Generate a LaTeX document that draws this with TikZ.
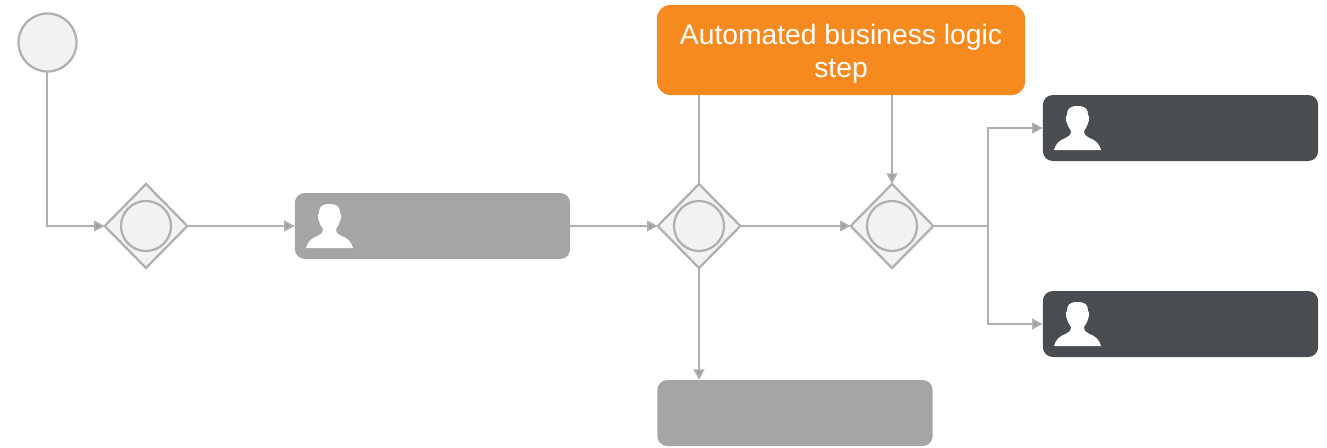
\documentclass[tikz,border=0pt]{standalone}
\usepackage{fontspec}
\setmainfont{Liberation Sans}
\usetikzlibrary{arrows.meta,shapes.geometric}
\definecolor{linegrey}{HTML}{B0B0B0}
\definecolor{softfill}{HTML}{F2F2F2}
\definecolor{midgrey}{HTML}{A5A5A5}
\definecolor{darkgrey}{HTML}{494C50}
\definecolor{brandorange}{HTML}{F78A1F}
\tikzset{
  x=0.75pt,y=-0.75pt,
  flow/.style={draw=linegrey,line width=1.35pt},
  flowarrow/.style={flow,-{Triangle[length=8pt,width=8pt,fill=linegrey!90!black]}},
  gateway/.style={diamond,aspect=1,draw=linegrey,fill=softfill,line width=1.7pt,minimum width=62pt,minimum height=63pt,inner sep=0pt,outer sep=0pt},
  event/.style={circle,draw=linegrey,fill=softfill,line width=1.7pt,inner sep=0pt,outer sep=0pt},
  taskbox/.style={rectangle,rounded corners=7.5pt,inner sep=0pt,outer sep=0pt,minimum width=206.5pt,minimum height=49.5pt},
  midtask/.style={taskbox,fill=midgrey},
  darktask/.style={taskbox,fill=darkgrey},
  person/.pic={
    \fill[white] (0,0) .. controls (8,0) and (10.5,3) .. (10.5,9)
      .. controls (12,10) and (12,14) .. (10.5,17)
      .. controls (9.5,21) and (7.5,23) .. (6.5,25)
      .. controls (6.5,29) and (9,30.5) .. (12,32)
      .. controls (18,34) and (22,38) .. (23.5,44)
      -- (-23.5,44)
      .. controls (-22,38) and (-18,34) .. (-12,32)
      .. controls (-9,30.5) and (-6.5,29) .. (-6.5,25)
      .. controls (-7.5,23) and (-9.5,21) .. (-10.5,17)
      .. controls (-12,14) and (-12,10) .. (-10.5,9)
      .. controls (-10.5,3) and (-8,0) .. (0,0) -- cycle;
  }
}
\begin{document}
\begin{tikzpicture}
\useasboundingbox (0,0) rectangle (1327,447);
\node[event,minimum size=43.5pt] (start) at (47.5,42.5) {};
\node[gateway] (g1) at (146,226) {};
\node[gateway] (g2) at (699,226) {};
\node[gateway] (g3) at (892,226) {};
\node[event,minimum size=37.5pt] (c1) at (146,226) {};
\node[event,minimum size=37.5pt] (c2) at (699,226) {};
\node[event,minimum size=37.5pt] (c3) at (892,226) {};
\node[midtask] (review) at (432.5,226) {};
\node[midtask] (bottom) at (795,413) {};
\node[darktask] (top) at (1180.5,128) {};
\node[darktask] (low) at (1180.5,324) {};
\node[rectangle,rounded corners=10pt,fill=brandorange,text=white,inner sep=0pt,outer sep=0pt,
  minimum width=276pt,minimum height=67.5pt,align=center,font=\fontsize{21.2}{24.75}\selectfont] (auto) at (841,50)
  {\rule{0pt}{20.5pt}Automated business logic\\step};
\coordinate (split) at (988,226);
\pic at (329.5,204) {person};
\pic at (1077.5,106) {person};
\pic at (1077.5,302) {person};
\draw[flowarrow] (start.south -| 47,0) |- (g1.west);
\draw[flowarrow] (g1.east) -- (review.west);
\draw[flowarrow] (review.east) -- (g2.west);
\draw[flowarrow] (g2.east) -- (g3.west);
\draw[flow] (auto.south -| g2.north) -- (g2.north);
\draw[flowarrow] (auto.south -| g3.north) -- (g3.north);
\draw[flowarrow] (g2.south) -- (g2.south |- bottom.north);
\draw[flow] (g3.east) -- (split);
\draw[flowarrow] (split) |- (top.west);
\draw[flowarrow] (split) |- (low.west);
\end{tikzpicture}
\end{document}
